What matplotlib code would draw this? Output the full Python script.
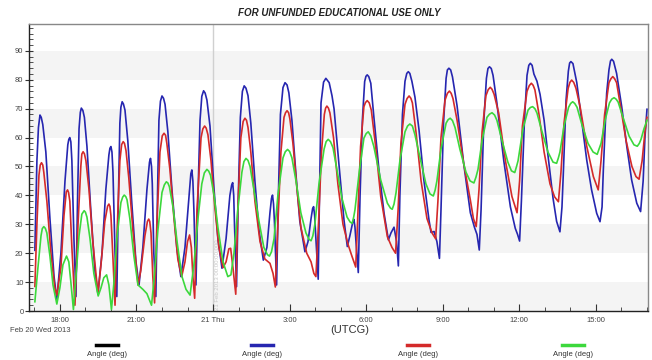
import matplotlib
matplotlib.use("Agg")
import matplotlib.pyplot as plt
from matplotlib.lines import Line2D
from matplotlib.ticker import MultipleLocator

plt.rcParams['font.family'] = ['Liberation Sans', 'DejaVu Sans']

# (hours since Feb 20 2013 00:00 UTCG, angle in degrees)
blue_pts = [
    (17.02, 21), (17.10, 52), (17.16, 63.5), (17.22, 67.8), (17.27, 67), (17.33, 64.5), (17.45, 55),
    (17.61, 32), (17.77, 12), (17.88, 4), (18.04, 20), (18.20, 45), (18.31, 57.5), (18.35, 59.4),
    (18.39, 60), (18.43, 58.5), (18.47, 52), (18.55, 25), (18.63, 5), (18.69, 38), (18.75, 63),
    (18.80, 68.7), (18.84, 70.2), (18.90, 69.4), (18.96, 67), (19.06, 57), (19.21, 35), (19.37, 14),
    (19.49, 6), (19.65, 20), (19.80, 42), (19.92, 54), (19.96, 56.3), (20.00, 56.9), (20.04, 55),
    (20.08, 48), (20.16, 20), (20.23, 5), (20.29, 38), (20.35, 65), (20.39, 70.5), (20.44, 72.4),
    (20.49, 71.6), (20.55, 69.5), (20.66, 59), (20.82, 37), (20.98, 17), (21.10, 9), (21.25, 22),
    (21.41, 42), (21.51, 51.5), (21.55, 52.8), (21.59, 50), (21.62, 44), (21.68, 20), (21.76, 5),
    (21.82, 38), (21.88, 66), (21.94, 72.6), (22.00, 74.4), (22.06, 73.6), (22.12, 71.5), (22.23, 62),
    (22.39, 42), (22.59, 21), (22.74, 11.9), (22.90, 22), (23.06, 40), (23.13, 47.5), (23.17, 48.8),
    (23.21, 45), (23.25, 35), (23.33, 9), (23.41, 40), (23.49, 66), (23.56, 74.3), (23.63, 76.2),
    (23.69, 75.4), (23.76, 73), (23.88, 64), (24.04, 42), (24.19, 25), (24.35, 14.8), (24.51, 25),
    (24.66, 40), (24.73, 43.6), (24.77, 44.4), (24.81, 40), (24.84, 30), (24.92, 8.4), (24.99, 40),
    (25.07, 67), (25.15, 76), (25.22, 77.9), (25.29, 77.1), (25.37, 74.5), (25.48, 65), (25.64, 45),
    (25.80, 28), (25.97, 17.6), (26.11, 22), (26.23, 34), (26.29, 39), (26.33, 40.1), (26.37, 37),
    (26.41, 30), (26.49, 9), (26.56, 40), (26.64, 68), (26.74, 77.3), (26.82, 79), (26.90, 78.2),
    (26.97, 75.5), (27.09, 66), (27.25, 47), (27.40, 31), (27.60, 20.5), (27.72, 24), (27.84, 32),
    (27.90, 35.4), (27.94, 36.1), (27.98, 33), (28.01, 28), (28.12, 11), (28.17, 40), (28.23, 72),
    (28.33, 79.2), (28.42, 80.5), (28.55, 79), (28.66, 74.5), (28.74, 70), (28.93, 51), (29.13, 31.5),
    (29.26, 22.3), (29.36, 26), (29.48, 31), (29.52, 31.7), (29.56, 29), (29.60, 24), (29.69, 13.3),
    (29.76, 40), (29.85, 66), (29.94, 79.4), (29.99, 81.2), (30.04, 81.7), (30.10, 81.1), (30.18, 78.8),
    (30.30, 67.2), (30.50, 48.8), (30.70, 33.8), (30.87, 24.6), (30.97, 27), (31.09, 29), (31.19, 24),
    (31.26, 15.6), (31.32, 40), (31.42, 68), (31.52, 79.5), (31.59, 82.2), (31.65, 82.8), (31.71, 82.2),
    (31.79, 79.5), (31.91, 74), (32.07, 62.6), (32.26, 45.3), (32.46, 31.5), (32.54, 27.2), (32.66, 27.5),
    (32.77, 24), (32.87, 18.2), (32.93, 35), (33.03, 65), (33.13, 80.5), (33.18, 83.4), (33.24, 84),
    (33.31, 83.4), (33.38, 81), (33.56, 71), (33.82, 51), (34.08, 34), (34.24, 29), (34.34, 26.5),
    (34.43, 21.1), (34.50, 35), (34.61, 66), (34.71, 80.5), (34.77, 83.9), (34.83, 84.5), (34.90, 83.9),
    (34.97, 81.5), (35.12, 72), (35.39, 52), (35.65, 36), (35.84, 28.6), (35.93, 26.5), (36.01, 24.2),
    (36.08, 38), (36.20, 66), (36.30, 81.5), (36.37, 85), (36.43, 85.7), (36.50, 85), (36.57, 82),
    (36.69, 79.5), (36.81, 75), (36.97, 66), (37.12, 54), (37.32, 39), (37.46, 31), (37.59, 27.4),
    (37.67, 36), (37.72, 47), (37.83, 73), (37.92, 83), (37.97, 85.8), (38.02, 86.3), (38.10, 85.6),
    (38.25, 79), (38.44, 66), (38.64, 52.2), (38.83, 41.9), (39.03, 33.8), (39.16, 30.9), (39.24, 36),
    (39.29, 48.8), (39.42, 75.3), (39.51, 83.4), (39.57, 86.5), (39.62, 87.1), (39.69, 86.4),
    (39.81, 82.2), (40.01, 70.7), (40.21, 56.9), (40.40, 45.3), (40.60, 37.3), (40.75, 34.4),
    (40.85, 45), (40.92, 60), (41.00, 69.8)]

red_pts = [
    (17.02, 8.5), (17.10, 30), (17.18, 47), (17.23, 50.5), (17.28, 51.3), (17.33, 50.5), (17.37, 48),
    (17.49, 38), (17.65, 20), (17.80, 8), (17.88, 5.5), (18.04, 15), (18.16, 33), (18.25, 41.2),
    (18.30, 41.9), (18.34, 41), (18.39, 38), (18.47, 22), (18.59, 2), (18.71, 30), (18.82, 50),
    (18.86, 54.3), (18.91, 55.1), (18.96, 54.4), (19.02, 52), (19.14, 42), (19.29, 24), (19.49, 6),
    (19.61, 16), (19.76, 31), (19.87, 36.3), (19.92, 37), (19.96, 36.2), (20.00, 33), (20.08, 18),
    (20.16, 2), (20.23, 25), (20.35, 52), (20.42, 57.6), (20.48, 58.6), (20.53, 58), (20.59, 55.5),
    (20.70, 46), (20.86, 28), (21.06, 9), (21.17, 14), (21.33, 26), (21.43, 31), (21.48, 31.8),
    (21.52, 31), (21.57, 27), (21.64, 12), (21.71, 2.8), (21.80, 30), (21.92, 55), (22.01, 60.6),
    (22.08, 61.5), (22.14, 60.8), (22.19, 58), (22.31, 49), (22.47, 32), (22.62, 18), (22.77, 11.9),
    (22.90, 17), (23.00, 24), (23.08, 26.3), (23.15, 22), (23.21, 12), (23.28, 4.4), (23.37, 35),
    (23.53, 60), (23.60, 63), (23.67, 64), (23.73, 63.3), (23.80, 61), (23.92, 52), (24.07, 36),
    (24.23, 22), (24.39, 15), (24.51, 17), (24.62, 21.5), (24.69, 21.7), (24.78, 15), (24.89, 5.8),
    (24.97, 35), (25.09, 60), (25.18, 65.6), (25.25, 66.7), (25.31, 66), (25.37, 63.5), (25.48, 55),
    (25.64, 38), (25.84, 24), (26.03, 18), (26.23, 16.5), (26.35, 13), (26.44, 8.3), (26.54, 30),
    (26.66, 55), (26.78, 67), (26.84, 68.6), (26.90, 69.3), (26.96, 68.6), (27.01, 66.5), (27.13, 58),
    (27.29, 42), (27.44, 29), (27.67, 20), (27.84, 17), (27.95, 13), (28.03, 11.9), (28.13, 30),
    (28.25, 55), (28.36, 68), (28.41, 70.2), (28.46, 70.9), (28.52, 70.2), (28.58, 68.5), (28.72, 60),
    (28.89, 44), (29.09, 30), (29.29, 23), (29.44, 19), (29.59, 15.2), (29.68, 35), (29.78, 56.9),
    (29.91, 70.7), (29.97, 72.1), (30.04, 72.8), (30.12, 72), (30.20, 69.5), (30.37, 56.9),
    (30.57, 39.6), (30.83, 25.7), (31.01, 22), (31.15, 20), (31.25, 35), (31.36, 58), (31.52, 71.5),
    (31.60, 73.5), (31.68, 74.4), (31.75, 73.6), (31.81, 72), (31.95, 62), (32.15, 45), (32.38, 32),
    (32.58, 27), (32.72, 25), (32.81, 38), (32.93, 60), (33.09, 73), (33.18, 75.3), (33.26, 76.1),
    (33.33, 75.3), (33.40, 73.5), (33.56, 66), (33.82, 51), (34.08, 38.4), (34.20, 32), (34.31, 29.2),
    (34.42, 42), (34.54, 62), (34.69, 74.5), (34.78, 76.6), (34.86, 77.4), (34.93, 76.7), (35.01, 75),
    (35.19, 68.5), (35.45, 52.2), (35.71, 39.6), (35.91, 34), (36.01, 45), (36.12, 64), (36.30, 76),
    (36.39, 78), (36.47, 78.8), (36.54, 78.1), (36.61, 76.5), (36.77, 68), (36.97, 55), (37.20, 44),
    (37.38, 39.5), (37.53, 37.8), (37.63, 48), (37.75, 65), (37.91, 77), (37.98, 79.1), (38.05, 79.9),
    (38.13, 79.1), (38.22, 77), (38.38, 70.7), (38.64, 57), (38.90, 46.5), (39.09, 41.9), (39.20, 52),
    (39.34, 68), (39.51, 79), (39.59, 80.4), (39.66, 81.1), (39.73, 80.4), (39.81, 79), (39.98, 70),
    (40.18, 59), (40.41, 50), (40.57, 46.5), (40.69, 45.6), (40.81, 52), (40.92, 62), (41.00, 67)]

green_pts = [
    (17.02, 3.2), (17.14, 15), (17.26, 26), (17.31, 28.5), (17.37, 29.2), (17.43, 28.6), (17.49, 27),
    (17.61, 19), (17.73, 9), (17.88, 2.4), (18.00, 8), (18.12, 16), (18.26, 19), (18.35, 17),
    (18.43, 10), (18.53, 0.5), (18.63, 12), (18.75, 26), (18.86, 33.5), (18.95, 34.7), (19.00, 34.2),
    (19.06, 32.5), (19.18, 25), (19.33, 13), (19.50, 5.2), (19.61, 8), (19.72, 11.5), (19.83, 12.5),
    (19.92, 9), (20.02, 0.5), (20.12, 10), (20.23, 25), (20.39, 37.5), (20.46, 39.4), (20.52, 40.1),
    (20.58, 39.6), (20.63, 38.5), (20.74, 32), (20.90, 19), (21.06, 9), (21.25, 7.5), (21.41, 6),
    (21.59, 2), (21.68, 10), (21.84, 28), (22.00, 41), (22.09, 43.6), (22.17, 44.7), (22.23, 44.3),
    (22.29, 43), (22.43, 36), (22.59, 24), (22.78, 12), (22.94, 7.5), (23.10, 5.5), (23.25, 16),
    (23.41, 32), (23.56, 44), (23.66, 47.8), (23.76, 49), (23.83, 48.4), (23.90, 47), (24.04, 40),
    (24.19, 29), (24.39, 17), (24.58, 11.9), (24.70, 12.5), (24.82, 20), (24.97, 35), (25.13, 48),
    (25.21, 51.7), (25.29, 52.8), (25.37, 52.1), (25.45, 50), (25.60, 42), (25.80, 31), (25.99, 22),
    (26.13, 19.5), (26.21, 19), (26.29, 20.5), (26.39, 25), (26.54, 40), (26.74, 53), (26.83, 55.1),
    (26.92, 55.9), (27.00, 55.2), (27.09, 53), (27.25, 45), (27.44, 34), (27.64, 27), (27.76, 24.8),
    (27.84, 24.3), (27.91, 26), (27.99, 30), (28.15, 44), (28.35, 56), (28.43, 58.6), (28.51, 59.4),
    (28.60, 58.6), (28.70, 56.5), (28.85, 49), (29.05, 39), (29.25, 32.5), (29.37, 30.8), (29.45, 30.3),
    (29.51, 32.5), (29.56, 35), (29.72, 47.6), (29.91, 59.8), (30.00, 61.4), (30.08, 62), (30.18, 60.6),
    (30.30, 56.9), (30.57, 45.3), (30.83, 37.3), (30.95, 35.6), (31.02, 35.2), (31.09, 37), (31.17, 41),
    (31.32, 52), (31.52, 62), (31.62, 64), (31.71, 64.7), (31.81, 64), (31.91, 61), (32.11, 53),
    (32.34, 44), (32.50, 40.5), (32.63, 39.8), (32.70, 41.8), (32.77, 45), (32.93, 56), (33.13, 65),
    (33.21, 66.2), (33.29, 66.7), (33.38, 65.9), (33.48, 63.5), (33.67, 56), (33.91, 48), (34.07, 45),
    (34.22, 44.3), (34.30, 46.3), (34.38, 49), (34.54, 59), (34.73, 67), (34.83, 68.1), (34.93, 68.6),
    (35.03, 67.8), (35.12, 66), (35.32, 59), (35.55, 51.5), (35.69, 48.5), (35.82, 47.9), (35.89, 50),
    (35.95, 52), (36.14, 63), (36.34, 69.5), (36.43, 70.4), (36.52, 70.7), (36.61, 70), (36.69, 68.5),
    (36.89, 62), (37.12, 55), (37.32, 51.5), (37.46, 51.1), (37.53, 53), (37.59, 55), (37.75, 64),
    (37.93, 70.5), (38.01, 71.8), (38.09, 72.4), (38.17, 71.8), (38.26, 70.5), (38.45, 64.5),
    (38.69, 58), (38.89, 55), (39.05, 54.2), (39.13, 56.2), (39.20, 58), (39.36, 66), (39.53, 72),
    (39.62, 73.3), (39.71, 73.8), (39.79, 73.3), (39.87, 72.3), (40.06, 67), (40.30, 60.5),
    (40.49, 57.5), (40.62, 57), (40.70, 58), (40.77, 59.5), (40.88, 63), (41.00, 66)]

tick_hours = [18, 21, 24, 27, 30, 33, 36, 39]
tick_labels = ["18:00", "21:00", "21 Thu", "3:00", "6:00", "9:00", "12:00", "15:00"]
band_starts = [0, 20, 40, 60, 80]
legend_colors = ['black', '#2626b0', '#d42a2a', '#3cd83c']

W, H = 652, 360
fig = plt.figure(figsize=(W / 100, H / 100), dpi=100)
ax = fig.add_axes([29 / W, 1 - 311 / H, 619 / W, 287 / H])

for lo in band_starts:
    ax.axhspan(lo, lo + 10, color='#f4f4f4', lw=0, zorder=0)

ax.axvline(24, color='#d0d0d0', lw=1, zorder=1)
ax.text(24.07, 0.5, '21 Feb 2013 00:00:00.000', rotation=90, fontsize=4.3,
        color='#c8c8c8', ha='left', va='bottom', zorder=1)

for pts, c, z in [(blue_pts, legend_colors[1], 3), (red_pts, legend_colors[2], 4),
                  (green_pts, legend_colors[3], 5)]:
    t, v = zip(*pts)
    ax.plot(t, v, color=c, lw=1.2, solid_joinstyle='round', zorder=z)

ax.set_xlim(16.79, 41.04)
ax.set_ylim(0, 99.3)
ax.set_xticks(tick_hours)
ax.set_xticklabels(tick_labels)
ax.xaxis.set_minor_locator(MultipleLocator(1))
ax.yaxis.set_major_locator(MultipleLocator(10))
ax.yaxis.set_minor_locator(MultipleLocator(2))
ax.set_yticks(range(0, 100, 10))

ax.tick_params(axis='y', which='major', direction='inout', length=6, width=0.8,
               labelsize=5.5, labelcolor='#444444', color='#333333', pad=1)
ax.tick_params(axis='y', which='minor', direction='in', length=3, width=0.6, color='#333333')
ax.tick_params(axis='x', which='major', direction='in', length=5, width=0.8,
               labelsize=5.5, labelcolor='#444444', color='#333333', pad=4)
ax.tick_params(axis='x', which='minor', direction='in', length=3, width=0.6, color='#333333')

for side in ['left', 'bottom']:
    ax.spines[side].set_color('#222222')
    ax.spines[side].set_linewidth(1.0)
for side in ['top', 'right']:
    ax.spines[side].set_color('#888888')
    ax.spines[side].set_linewidth(1.0)

fig.text(339 / W, 1 - 13 / H, 'FOR UNFUNDED EDUCATIONAL USE ONLY', ha='center', va='center',
         fontsize=7, fontweight='bold', style='italic', color='#222222')
fig.text(10 / W, 1 - 331 / H, 'Feb 20 Wed 2013', ha='left', va='center', fontsize=5.5, color='#444444')
fig.text(350 / W, 1 - 330 / H, '(UTCG)', ha='center', va='center', fontsize=8, color='#333333')

# legend: a short line with its label underneath, four columns
for i, c in enumerate(legend_colors):
    cx = (107 + 155.3 * i) / W
    fig.add_artist(Line2D([cx - 11 / W, cx + 11 / W], [1 - 345 / H, 1 - 345 / H],
                          color=c, lw=2.5, transform=fig.transFigure))
    fig.text(cx, 1 - 355 / H, 'Angle (deg)', ha='center', va='center', fontsize=5.5, color='#333333')

fig.savefig('out.png', dpi=100)
